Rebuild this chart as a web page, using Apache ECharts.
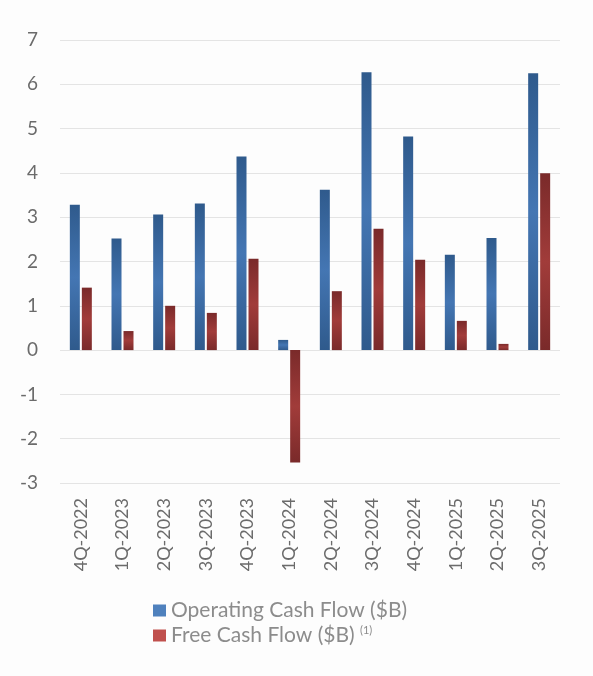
<!DOCTYPE html>
<html>
<head>
<meta charset="utf-8">
<script src="https://cdn.jsdelivr.net/npm/echarts@6/dist/echarts.min.js"></script>
<style>
  html, body { margin: 0; padding: 0; background: #fdfdfd; }
  #chart { width: 593px; height: 676px; }
</style>
</head>
<body>
<div id="chart"></div>
<script>
const quarters = ['4Q-2022', '1Q-2023', '2Q-2023', '3Q-2023', '4Q-2023', '1Q-2024',
  '2Q-2024', '3Q-2024', '4Q-2024', '1Q-2025', '2Q-2025', '3Q-2025'];
const operatingCashFlow = [3.28, 2.52, 3.06, 3.31, 4.37, 0.23, 3.62, 6.27, 4.82, 2.15, 2.53, 6.25];
const freeCashFlow = [1.41, 0.43, 1.00, 0.84, 2.06, -2.54, 1.33, 2.74, 2.04, 0.66, 0.14, 3.99];
const yTicks = [-3, -2, -1, 0, 1, 2, 3, 4, 5, 6, 7];

const FONT = 'Lato, "Open Sans", sans-serif';

// darker at top and bottom, lighter in the middle
function barShade(dark, light) {
  return new echarts.graphic.LinearGradient(0, 0, 0, 1, [
    { offset: 0, color: dark },
    { offset: 0.5, color: light },
    { offset: 1, color: dark },
  ]);
}

const chart = echarts.init(document.getElementById('chart'));

chart.setOption({
  backgroundColor: '#fdfdfd',
  animation: false,
  textStyle: { fontFamily: FONT },
  grid: { left: 60, right: 33, top: 40, height: 443 },
  legend: {
    orient: 'vertical',
    left: 148,
    top: 595,
    itemWidth: 13,
    itemHeight: 12,
    itemGap: 4,
    icon: 'rect',
    textStyle: {
      fontFamily: FONT,
      fontSize: 21,
      color: '#8c8c8c',
      rich: {
        sup: { fontSize: 11, color: '#8c8c8c', verticalAlign: 'top', padding: [0, 0, 10, 0] },
      },
    },
    data: [
      { name: 'Operating Cash Flow ($B)', itemStyle: { color: '#4f81bd' } },
      { name: 'Free Cash Flow ($B)', itemStyle: { color: '#c0504d' } },
    ],
    formatter: (name) => name === 'Free Cash Flow ($B)' ? name + ' {sup|(1)}' : name,
  },
  xAxis: {
    type: 'category',
    data: quarters,
    axisLine: { show: false },
    axisTick: { show: false },
    axisLabel: {
      rotate: 90,
      interval: 0,
      margin: 15,
      fontSize: 18,
      color: '#6b6b6b',
      fontFamily: FONT,
    },
  },
  yAxis: {
    type: 'value',
    min: yTicks[0],
    max: yTicks[yTicks.length - 1],
    interval: 1,
    axisLine: { show: false },
    axisTick: { show: false },
    axisLabel: { fontSize: 19, color: '#6b6b6b', margin: 22, fontFamily: FONT },
    splitLine: { lineStyle: { color: '#e4e4e4', width: 1 } },
  },
  series: [
    {
      name: 'Operating Cash Flow ($B)',
      type: 'bar',
      data: operatingCashFlow,
      barWidth: 10,
      barGap: '20%',
      itemStyle: { color: barShade('#2f5a8c', '#4476b3') },
    },
    {
      name: 'Free Cash Flow ($B)',
      type: 'bar',
      data: freeCashFlow,
      barWidth: 10,
      barGap: '20%',
      itemStyle: { color: barShade('#7a2a2a', '#a13c3a') },
    },
  ],
});
</script>
</body>
</html>
